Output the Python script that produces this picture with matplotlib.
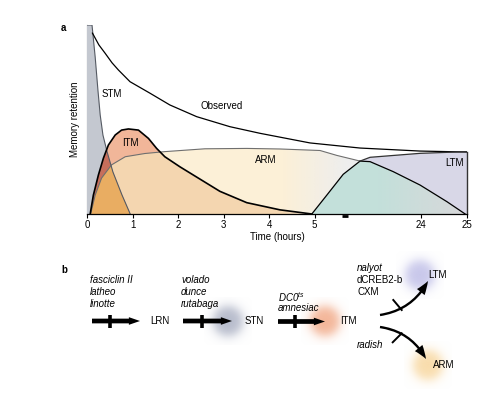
import numpy as np
import matplotlib
matplotlib.use("Agg")
import matplotlib.pyplot as plt
from matplotlib.patches import Polygon
from matplotlib.colors import to_rgb

plt.rcParams['font.family'] = ['Liberation Sans', 'DejaVu Sans']
plt.rcParams['mathtext.fontset'] = 'custom'
plt.rcParams['mathtext.it'] = 'Liberation Sans:italic'
plt.rcParams['mathtext.rm'] = 'Liberation Sans'

# ---- panel a data (x: 0-5 h linear, then axis break, then 24 h and 25 h) ----
tick_pos = [0, 1, 2, 3, 4, 5, 7.33, 8.35]
tick_labels = ["0", "1", "2", "3", "4", "5", "24", "25"]
break_pos = 5.67

stm_x = [0, 0, 0.11, 0.18, 0.24, 0.29, 0.35, 0.44, 0.57, 0.77, 0.95]
stm_y = [0, 1.0, 1.0, 0.83, 0.656, 0.524, 0.418, 0.33, 0.222, 0.10, 0]

itm_x = [0.07, 0.14, 0.25, 0.36, 0.47, 0.62, 0.76, 0.91, 1.13, 1.35, 1.53, 1.71,
         2.04, 2.48, 2.92, 3.51, 4.24, 4.94]
itm_y = [0, 0.10, 0.206, 0.295, 0.365, 0.418, 0.444, 0.45, 0.444, 0.40, 0.347, 0.303,
         0.25, 0.185, 0.12, 0.06, 0.022, 0]

arm_x = [0.08, 0.18, 0.32, 0.54, 0.84, 1.27, 1.71, 2.59, 3.51, 4.24, 5.12, 5.49, 6.0]
arm_y = [0, 0.10, 0.19, 0.26, 0.303, 0.32, 0.33, 0.345, 0.347, 0.344, 0.336, 0.31, 0.28]

obs_x = [0.12, 0.26, 0.40, 0.55, 0.69, 0.945, 1.385, 1.82, 2.41, 3.14, 3.80, 4.90, 6.0, 7.32, 8.35]
obs_y = [0.957, 0.895, 0.85, 0.80, 0.762, 0.70, 0.639, 0.577, 0.515, 0.462, 0.427, 0.376, 0.349, 0.333, 0.328]

teal_x = [4.94, 5.27, 5.63, 6.0, 6.22, 6.73, 7.32, 7.91, 8.31]
teal_y = [0, 0.10, 0.21, 0.28, 0.277, 0.224, 0.153, 0.065, 0]

ltm_x = [6.0, 6.22, 7.32, 8.35]
ltm_y = [0.28, 0.30, 0.321, 0.33]

# ---- panel b data (figure pixel positions) ----
genes1 = ["fasciclin II", "latheo", "linotte"]
genes2 = ["volado", "dunce", "rutabaga"]
genes3 = ["DC0$^{ts}$", "amnesiac"]
genes4 = ["nalyot", "dCREB2-b", "CXM"]
genes4_italic = [True, False, False]
node_names = ["LRN", "STN", "ITM", "LTM", "ARM"]
node_x = [150, 245, 340, 428, 433]
node_y = [321.5, 321.5, 321.5, 275, 365]
blob_x = [228, 325, 420, 428]
blob_y = [321.5, 321.5, 275, 365]
blob_col = ["#b3b8c9", "#f3b293", "#c6c5ea", "#f9dba8"]


def poly(ax, xs, ys, color, z, clip=None):
    p = Polygon(np.column_stack([xs, ys]), closed=True, facecolor=color,
                edgecolor='none', zorder=z)
    ax.add_patch(p)
    if clip is not None:
        p.set_clip_path(clip)
    return p


def hfade(ax, x0, x1, color, a0, a1, clip, z, xmin=0, xmax=8.35):
    xs = np.linspace(xmin, xmax, 400)
    t = np.clip((xs - x0) / (x1 - x0), 0, 1)
    img = np.zeros((1, len(xs), 4))
    img[..., :3] = to_rgb(color)
    img[0, :, 3] = a0 + (a1 - a0) * t
    im = ax.imshow(img, extent=[xmin, xmax, 0, 1.0], aspect='auto',
                   origin='lower', zorder=z, interpolation='bilinear')
    im.set_clip_path(clip)


def blob(ax, cx, cy, r, color):
    g = np.linspace(-1, 1, 121)
    xx, yy = np.meshgrid(g, g)
    rr = np.sqrt(xx ** 2 + yy ** 2)
    img = np.zeros((121, 121, 4))
    img[..., :3] = to_rgb(color)
    img[..., 3] = 0.95 / (1 + np.exp((rr - 0.6) / 0.13))
    ax.imshow(img, extent=[cx - r, cx + r, cy + r, cy - r], aspect='auto',
              zorder=1, interpolation='bilinear')


fig = plt.figure(figsize=(4.88, 3.95), dpi=100)

# ================= panel a =================
ax = fig.add_axes([87 / 488, (395 - 214) / 395, 380 / 488, 189 / 395])

arm_poly = poly(ax, arm_x + [6.0], arm_y + [0], "#fcf0d7", 1)
itm_poly = poly(ax, itm_x, itm_y, "#f1b699", 2)
poly(ax, itm_x, itm_y, "#f4d6b0", 3, clip=arm_poly)
stm_poly = poly(ax, stm_x, stm_y, "#c4c8d0", 4)
poly(ax, stm_x, stm_y, "#c76e5b", 5, clip=itm_poly)
poly(ax, stm_x, stm_y, "#e9ad62", 6, clip=arm_poly)
hfade(ax, 4.3, 5.7, "#eeeeee", 0, 1, arm_poly, 7)

ltm_poly = poly(ax, ltm_x + [8.35, 6.0], ltm_y + [0, 0], "#d8d7e7", 8)
teal_poly = poly(ax, teal_x, teal_y, "#c3e0da", 9)
hfade(ax, 6.4, 8.3, "#d8d8da", 0, 1, teal_poly, 10)

ax.plot(arm_x, arm_y, color="#6f6f6f", lw=0.8, zorder=11)
ax.plot(stm_x[1:], stm_y[1:], color="#555a63", lw=0.8, zorder=11)
ax.plot(itm_x, itm_y, color="black", lw=1.2, zorder=12)
ax.plot(obs_x, obs_y, color="black", lw=0.9, zorder=12)
ax.plot(teal_x, teal_y, color="black", lw=0.9, zorder=12)
ax.plot(ltm_x, ltm_y, color="#333333", lw=0.9, zorder=12)
ax.plot([8.35, 8.35], [0, ltm_y[-1]], color="#333333", lw=1.0, zorder=12,
        clip_on=False)
ax.plot([break_pos - 0.06, break_pos + 0.06], [-0.012, -0.012], color="black",
        lw=2, solid_capstyle='butt', clip_on=False, zorder=12)

ax.text(0.32, 0.635, "STM", fontsize=7, va='center', zorder=13)
ax.text(2.50, 0.573, "Observed", fontsize=7, va='center', zorder=13)
ax.text(0.78, 0.374, "ITM", fontsize=7, va='center', zorder=13)
ax.text(3.69, 0.286, "ARM", fontsize=7, va='center', zorder=13)
ax.text(7.87, 0.268, "LTM", fontsize=7, va='center', zorder=13)

ax.set_xlim(0, 8.35)
ax.set_ylim(0, 1.0)
ax.set_xticks(tick_pos)
ax.set_xticklabels(tick_labels, fontsize=7)
ax.set_yticks([])
ax.tick_params(axis='x', length=3, width=0.8, pad=1.5)
for s in ["top", "right"]:
    ax.spines[s].set_visible(False)
ax.spines["left"].set_color("#555555")
ax.spines["bottom"].set_linewidth(0.9)
ax.spines["bottom"].set_zorder(14)
ax.set_xlabel("Time (hours)", fontsize=7, labelpad=1)
ax.set_ylabel("Memory retention", fontsize=7, labelpad=5)

# ================= panel b (pixel coordinates) =================
bx = fig.add_axes([0, 0, 1, 1], zorder=-1)
bx.set_xlim(0, 488)
bx.set_ylim(395, 0)
bx.axis('off')
bx.patch.set_visible(False)

fig.text(61 / 488, 1 - 28 / 395, "a", fontsize=7, fontweight='bold', va='center')
fig.text(61 / 488, 1 - 270 / 395, "b", fontsize=7, fontweight='bold', va='center')

for cx, cy, c in zip(blob_x, blob_y, blob_col):
    blob(bx, cx, cy, 24, c)

for i, g in enumerate(genes1):
    bx.text(90, 280 + 12 * i, g, fontsize=7, style='italic', va='center')
for i, g in enumerate(genes2):
    bx.text(181, 280 + 12 * i, g, fontsize=7, style='italic', va='center')
for i, g in enumerate(genes3):
    bx.text(278, 297 + 11 * i, g, fontsize=7, style='italic', va='center')
for i, (g, it) in enumerate(zip(genes4, genes4_italic)):
    bx.text(357, 268 + 12 * i, g, fontsize=7, va='center',
            style='italic' if it else 'normal')
bx.text(357, 345, "radish", fontsize=7, style='italic', va='center')

for n, x, y in zip(node_names, node_x, node_y):
    bx.text(x, y, n, fontsize=7, va='center', zorder=5)

straight_style = "simple,head_length=0.8,head_width=0.55,tail_width=0.34"
curved_style = "simple,head_length=0.95,head_width=0.7,tail_width=0.17"
straight = [(92, 140, 321, 110), (183, 232, 321, 201.7), (278, 325, 321.5, 295)]
for x0, x1, y, xc in straight:
    bx.annotate("", xy=(x1, y), xytext=(x0, y), zorder=4,
                arrowprops=dict(arrowstyle=straight_style, lw=0, color='black',
                                mutation_scale=10, shrinkA=0, shrinkB=0))
    bx.plot([xc, xc], [y - 6.5, y + 6.5], color='black', lw=2.6,
            solid_capstyle='butt', zorder=4)

bx.annotate("", xy=(428, 281), xytext=(380, 315), zorder=4,
            arrowprops=dict(arrowstyle=curved_style, lw=0, color='black',
                            mutation_scale=10, shrinkA=0, shrinkB=0,
                            connectionstyle="arc3,rad=0.25"))
bx.annotate("", xy=(426, 359), xytext=(380, 327), zorder=4,
            arrowprops=dict(arrowstyle=curved_style, lw=0, color='black',
                            mutation_scale=10, shrinkA=0, shrinkB=0,
                            connectionstyle="arc3,rad=-0.25"))
bx.plot([393.3, 401.7], [300, 310], color='black', lw=1.4, zorder=4)
bx.plot([392.7, 401.7], [342.3, 333.3], color='black', lw=1.4, zorder=4)

fig.savefig("out.png", dpi=100)
